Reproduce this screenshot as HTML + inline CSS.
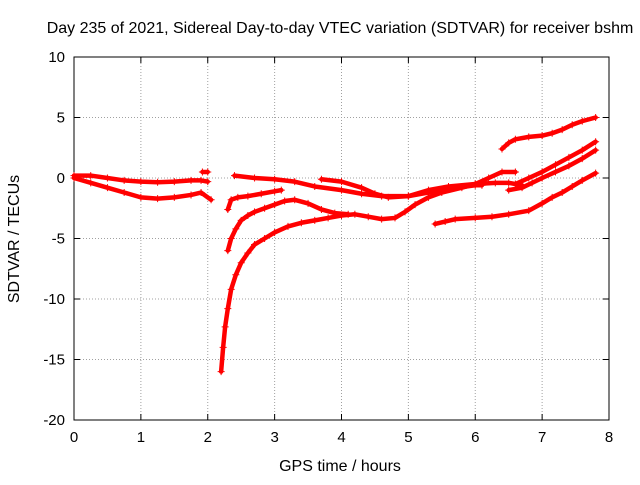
<!DOCTYPE html>
<html><head><meta charset="utf-8"><style>
body{margin:0;background:#fff}
svg text{font-family:"Liberation Sans",sans-serif;font-size:15px;fill:#000}
svg text.big{font-size:16px}
</style></head><body>
<svg id="chart" width="640" height="480" viewBox="0 0 640 480" xmlns="http://www.w3.org/2000/svg">
<rect width="640" height="480" fill="#fff"/>
<text class="big" x="340" y="33" text-anchor="middle">Day 235 of 2021, Sidereal Day-to-day VTEC variation (SDTVAR) for receiver bshm</text>
<g id="grid"></g>
<g id="axes"></g>
<g id="series"></g>
<text class="big" x="340" y="471" text-anchor="middle">GPS time / hours</text>
<text class="big" transform="translate(19,239) rotate(-90)" text-anchor="middle">SDTVAR / TECUs</text>
</svg>
<script>
const xTicks=[0,1,2,3,4,5,6,7,8];
const yTicks=[10,5,0,-5,-10,-15,-20];
const seriesA=[[0,0.2],[0.25,0.2],[0.5,0],[0.75,-0.2],[1,-0.3],[1.25,-0.35],[1.5,-0.3],[1.75,-0.2],[1.9,-0.2],[2.0,-0.3]];
const seriesA2=[[1.92,0.5],[2.0,0.5]];
const seriesB=[[0,0],[0.25,-0.4],[0.5,-0.8],[0.75,-1.2],[1,-1.6],[1.25,-1.7],[1.5,-1.6],[1.75,-1.4],[1.9,-1.2],[2.05,-1.8]];
const seriesC=[[2.2,-16],[2.23,-14],[2.26,-12.3],[2.3,-10.8],[2.35,-9.2],[2.42,-8],[2.5,-7],[2.6,-6.2],[2.7,-5.5],[2.85,-5],[3,-4.5],[3.2,-4],[3.4,-3.7],[3.6,-3.5],[3.8,-3.3],[4.0,-3.1],[4.2,-3.0],[4.4,-3.2],[4.6,-3.4],[4.8,-3.3],[4.95,-2.8],[5.1,-2.2],[5.3,-1.6],[5.5,-1.2],[5.8,-0.8],[6.0,-0.5],[6.2,0],[6.4,0.5],[6.6,0.5]];
const seriesD=[[2.3,-6],[2.35,-5],[2.42,-4.2],[2.5,-3.5],[2.6,-3.1],[2.7,-2.8],[2.85,-2.5],[3.0,-2.2],[3.15,-1.9],[3.3,-1.8],[3.5,-2.1],[3.7,-2.6],[3.9,-2.9],[4.1,-3.0]];
const seriesD2=[[2.3,-2.6],[2.35,-1.8],[2.45,-1.6],[2.6,-1.5],[2.8,-1.3],[3.0,-1.1],[3.1,-1.0]];
const seriesE=[[2.4,0.2],[2.7,0],[3,-0.1],[3.3,-0.3],[3.6,-0.7],[4.0,-1.0],[4.3,-1.3],[4.6,-1.5],[5.0,-1.5],[5.3,-1.2],[5.6,-0.9],[6.0,-0.6],[6.1,-0.6]];
const seriesF=[[3.7,-0.1],[4,-0.3],[4.3,-0.8],[4.5,-1.3],[4.7,-1.6],[5.0,-1.5],[5.3,-1.0],[5.6,-0.7],[6.0,-0.5],[6.3,-0.4],[6.5,-0.4],[6.7,-0.6]];
const seriesG=[[5.4,-3.8],[5.55,-3.6],[5.7,-3.4],[6.0,-3.3],[6.25,-3.2],[6.5,-3.0],[6.8,-2.7],[7.0,-2.1],[7.15,-1.6],[7.3,-1.2],[7.45,-0.7],[7.6,-0.2],[7.8,0.4]];
const seriesH=[[6.4,2.4],[6.5,2.9],[6.6,3.2],[6.8,3.4],[7.0,3.5],[7.15,3.7],[7.3,4.0],[7.45,4.4],[7.6,4.7],[7.8,5.0]];
const seriesI=[[6.5,-1],[6.7,-0.8],[6.85,-0.4],[7.0,0],[7.2,0.5],[7.4,1.0],[7.6,1.6],[7.8,2.3]];
const seriesJ=[[6.6,-0.5],[6.8,0],[7,0.5],[7.2,1.1],[7.4,1.7],[7.6,2.3],[7.8,3.0]];
const allSeries=[seriesA,seriesA2,seriesB,seriesC,seriesD,seriesD2,seriesE,seriesF,seriesG,seriesH,seriesI,seriesJ];
const X0=74,X1=609,Y0=420,Y1=57;
const xs=v=>X0+(v-0)/(8-0)*(X1-X0);
const ys=v=>Y0-(v+20)/30*(Y0-Y1);
const NS="http://www.w3.org/2000/svg";
function mk(tag,attrs,parent){const e=document.createElementNS(NS,tag);for(const k in attrs)e.setAttribute(k,attrs[k]);parent.appendChild(e);return e;}
const grid=document.getElementById('grid'),axes=document.getElementById('axes'),ser=document.getElementById('series');
xTicks.forEach(t=>{const x=xs(t);
 if(t>0&&t<8){const l=mk('line',{x1:x,x2:x,y1:Y1,y2:Y0,stroke:'#a0a0a0','stroke-dasharray':'1,2'},grid);}
 mk('line',{x1:x,x2:x,y1:Y0,y2:Y0-6,stroke:'#000'},axes);mk('line',{x1:x,x2:x,y1:Y1,y2:Y1+6,stroke:'#000'},axes);
 const tx=mk('text',{x:x,y:Y0+22,'text-anchor':'middle'},axes);tx.textContent=t;
 });
yTicks.forEach(t=>{const y=ys(t);
 if(t>-20&&t<10){const l=mk('line',{x1:X0,x2:X1,y1:y,y2:y,stroke:'#a0a0a0','stroke-dasharray':'1,2'},grid);}
 mk('line',{x1:X0,x2:X0+6,y1:y,y2:y,stroke:'#000'},axes);mk('line',{x1:X1,x2:X1-6,y1:y,y2:y,stroke:'#000'},axes);
 const tx=mk('text',{x:X0-9,y:y+5,'text-anchor':'end'},axes);tx.textContent=t;
 });
const fr=mk('rect',{x:X0,y:Y1,width:X1-X0,height:Y0-Y1,fill:'none',stroke:'#000'},axes);

allSeries.forEach((s,i)=>{
 const g=mk('g',{},ser);
 
 
 mk('polyline',{points:s.map(p=>xs(p[0])+','+ys(p[1])).join(' '),fill:'none',stroke:'#ff0000','stroke-width':4.5,'stroke-linejoin':'round','stroke-linecap':'round'},g);
 s.forEach(p=>{const x=xs(p[0]),y=ys(p[1]);
  const m=mk('path',{d:`M${x-3.5},${y}H${x+3.5}M${x},${y-3.5}V${y+3.5}`,stroke:'#ff0000','stroke-width':1},g);
  });
});
</script>
</body></html>
